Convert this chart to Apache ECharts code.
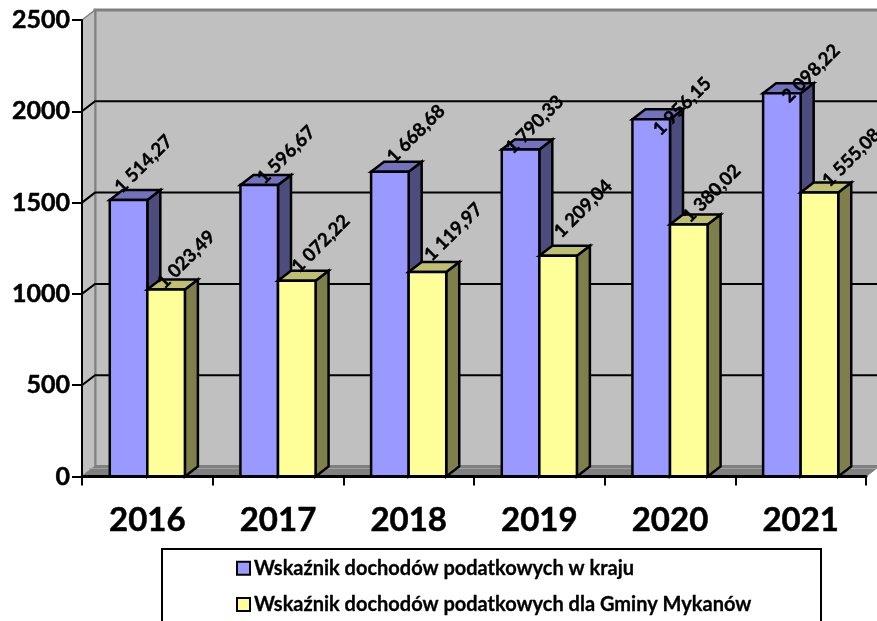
<!DOCTYPE html>
<html>
<head>
<meta charset="utf-8">
<title>Wskaźnik dochodów podatkowych</title>
<style>
html, body { margin: 0; padding: 0; background: #fff; }
#chart { width: 877px; height: 621px; }
</style>
<script src="https://cdn.jsdelivr.net/npm/echarts@6/dist/echarts.min.js"></script>
</head>
<body>
<div id="chart"></div>
<script>
var years = ['2016', '2017', '2018', '2019', '2020', '2021'];
var kraj = [1514.27, 1596.67, 1668.68, 1790.33, 1956.15, 2098.22];
var gmina = [1023.49, 1072.22, 1119.97, 1209.04, 1380.02, 1555.08];
var yTicks = [0, 500, 1000, 1500, 2000, 2500];
var krajName = 'Wskaźnik dochodów podatkowych w kraju';
var gminaName = 'Wskaźnik dochodów podatkowych dla Gminy Mykanów';

// the labels in the original sit unevenly, offsets from the middle of the bar top
var krajNudge = [[15, -36], [27, -30], [26, -38], [14, -25], [31, -13], [29, -20]];
var gminaNudge = [[20, -30], [24, -37], [26, -40], [25, -47], [23, -31], [32, -35]];

var font = 'Lato';
var depthX = 13;
var depthY = 10;
var barShare = 0.2875;

function formatValue(v) {
    var parts = v.toFixed(2).split('.');
    return parts[0].replace(/\B(?=(\d{3})+$)/g, ' ') + ',' + parts[1];
}

function poly(points, fill, stroke, width) {
    return {
        type: 'polygon',
        shape: {points: points},
        style: {fill: fill, stroke: stroke, lineWidth: width, lineJoin: 'miter'}
    };
}

// back wall, side wall, floor and the grid lines
function renderWall(params, api) {
    var left = api.coord([0, 0])[0] - api.size([1, 0])[0] / 2;
    var right = left + api.size([1, 0])[0] * years.length;
    var bottom = api.coord([0, 0])[1];
    var top = api.coord([0, 2500])[1];
    var children = [
        poly([[left + depthX, top - depthY], [right + depthX, top - depthY], [right + depthX, bottom - depthY], [left + depthX, bottom - depthY]], '#c0c0c0', '#808080', 3),
        poly([[left, top], [left + depthX, top - depthY], [left + depthX, bottom - depthY], [left, bottom]], '#c0c0c0', '#808080', 1.5),
        poly([[left, bottom], [left + depthX, bottom - depthY], [right + depthX, bottom - depthY], [right, bottom]], '#808080', '#808080', 1)
    ];
    children.push({
        type: 'line',
        shape: {x1: left + 7, y1: bottom - 8, x2: right + depthX, y2: bottom - 8},
        style: {stroke: '#a0a0a0', lineWidth: 1}
    });
    yTicks.forEach(function (t) {
        if (t === 0 || t === 2500) {
            return;
        }
        var y = api.coord([0, t])[1];
        children.push({
            type: 'polyline',
            shape: {points: [[left, y], [left + depthX, y - depthY], [right + depthX, y - depthY]]},
            style: {fill: 'none', stroke: '#000', lineWidth: 2}
        });
    });
    return {type: 'group', children: children};
}

function makeBars(front, topFace, side, isSecond, nudge) {
    return function (params, api) {
        var i = api.value(0);
        var v = api.value(1);
        var topPt = api.coord([i, v]);
        var basePt = api.coord([i, 0]);
        var w = api.size([1, 0])[0] * barShare;
        var x0 = isSecond ? topPt[0] : topPt[0] - w;
        var x1 = x0 + w;
        var yt = topPt[1];
        var yb = basePt[1];
        return {
            type: 'group',
            children: [
                poly([[x1, yt], [x1 + depthX, yt - depthY], [x1 + depthX, yb - depthY], [x1, yb]], side, '#000', 2.5),
                poly([[x0, yt], [x0 + depthX, yt - depthY], [x1 + depthX, yt - depthY], [x1, yt]], topFace, '#000', 2.5),
                poly([[x0, yt], [x1, yt], [x1, yb], [x0, yb]], front, '#000', 2.5),
                {
                    type: 'text',
                    x: x0 + w / 2 + nudge[i][0],
                    y: yt + nudge[i][1],
                    rotation: Math.PI / 4,
                    z2: 20,
                    style: {
                        text: formatValue(v),
                        fill: '#000',
                        stroke: '#000',
                        lineWidth: 0.4,
                        font: 'bold 18.5px ' + font,
                        align: 'center',
                        verticalAlign: 'middle'
                    }
                }
            ]
        };
    };
}

var chart = echarts.init(document.getElementById('chart'));

var option = {
    animation: false,
    backgroundColor: '#fff',
    grid: {left: 82, right: 11, top: 20, bottom: 144.5},
    graphic: [{
        type: 'rect',
        z: 0,
        shape: {x: 162, y: 549, width: 659, height: 90},
        style: {fill: '#fff', stroke: '#000', lineWidth: 2}
    }],
    legend: {
        orient: 'vertical',
        left: 236,
        top: 558,
        padding: 0,
        itemWidth: 13,
        itemHeight: 13,
        itemGap: 16,
        textStyle: {
            fontFamily: font, fontWeight: 'bold', fontSize: 20, color: '#000',
            textBorderColor: '#000', textBorderWidth: 0.3, padding: [2, 0, 0, -1]
        },
        data: [
            {name: krajName, icon: 'rect', itemStyle: {color: '#9999ff', borderColor: '#000', borderWidth: 2}},
            {name: gminaName, icon: 'rect', itemStyle: {color: '#ffff99', borderColor: '#000', borderWidth: 2}}
        ]
    },
    xAxis: {
        type: 'category',
        data: years,
        z: 5,
        axisLine: {show: true, lineStyle: {color: '#000', width: 3}},
        axisTick: {show: true, length: 9, lineStyle: {color: '#000', width: 2}},
        axisLabel: {
            color: '#000', fontFamily: font, fontWeight: 'bold', fontSize: 33, margin: 27,
            textBorderColor: '#000', textBorderWidth: 0.5
        }
    },
    yAxis: {
        type: 'value',
        min: 0,
        max: 2500,
        interval: 500,
        z: 5,
        axisLine: {show: true, lineStyle: {color: '#000', width: 2}},
        axisTick: {show: true, length: 10, lineStyle: {color: '#000', width: 2}},
        axisLabel: {
            color: '#000', fontFamily: font, fontWeight: 'bold', fontSize: 25, margin: 12,
            textBorderColor: '#000', textBorderWidth: 0.5,
            formatter: function (v) { return String(v); }
        },
        splitLine: {show: false}
    },
    series: [
        {
            type: 'custom',
            z: 1,
            silent: true,
            renderItem: renderWall,
            data: [[0, 0]]
        },
        {
            type: 'custom',
            name: krajName,
            z: 2,
            itemStyle: {color: '#9999ff'},
            renderItem: makeBars('#9999ff', '#7272bf', '#4c4c7f', false, krajNudge),
            data: kraj.map(function (v, i) { return [i, v]; })
        },
        {
            type: 'custom',
            name: gminaName,
            z: 2,
            itemStyle: {color: '#ffff99'},
            renderItem: makeBars('#ffff99', '#bfbf72', '#7f7f4c', true, gminaNudge),
            data: gmina.map(function (v, i) { return [i, v]; })
        }
    ]
};

chart.setOption(option);
</script>
</body>
</html>
